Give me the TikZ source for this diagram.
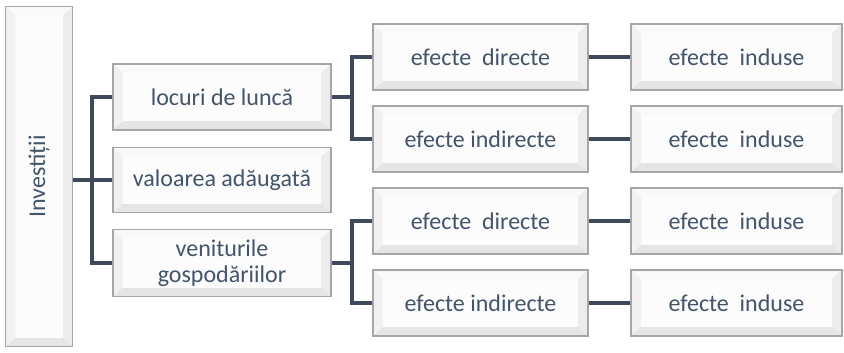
\documentclass[tikz,border=0pt]{standalone}
\usepackage{fontspec}
\setmainfont{Carlito}
\usetikzlibrary{calc}
\definecolor{txt}{HTML}{44546A}
\definecolor{ln}{HTML}{3E4A5C}
\definecolor{edge}{HTML}{A6A6A6}
\tikzset{
  bevelbox/.style={draw=edge, line width=1.2pt, fill=white, inner sep=0pt,
    text=txt, font=\fontsize{24}{26}\selectfont, align=center,
    path picture={
      \coordinate (nw) at (path picture bounding box.north west);
      \coordinate (ne) at (path picture bounding box.north east);
      \coordinate (sw) at (path picture bounding box.south west);
      \coordinate (se) at (path picture bounding box.south east);
      \coordinate (inw) at ($(nw)+(10pt,-9pt)$);
      \coordinate (ine) at ($(ne)+(-10pt,-9pt)$);
      \coordinate (isw) at ($(sw)+(10pt,9pt)$);
      \coordinate (ise) at ($(se)+(-10pt,9pt)$);
      \fill[gray!5] (nw) -- (ne) -- (ine) -- (inw) -- cycle;
      \fill[gray!11] (nw) -- (inw) -- (isw) -- (sw) -- cycle;
      \fill[gray!15] (ne) -- (ine) -- (ise) -- (se) -- cycle;
      \fill[gray!20] (sw) -- (isw) -- (ise) -- (se) -- cycle;
      \fill[gray!2] (inw) rectangle (ise);
    }},
  conn/.style={draw=ln, line width=3.5pt}
}
\begin{document}
\begin{tikzpicture}[x=1pt,y=-1pt]
\useasboundingbox (0,0) rectangle (844,353);
\node[bevelbox, minimum width=67pt, minimum height=340pt] (inv) at (39,176.5) {\rotatebox{90}{Investiții}};
\node[bevelbox, minimum width=218pt, minimum height=66pt] (loc) at (222,97) {locuri de luncă};
\node[bevelbox, minimum width=218pt, minimum height=65pt] (val) at (222,180) {valoarea adăugată};
\node[bevelbox, minimum width=218pt, minimum height=67pt] (ven) at (222,263) {veniturile\\gospodăriilor};
\node[bevelbox, minimum width=215pt, minimum height=66pt] (d1) at (480.5,57) {efecte\ \ directe};
\node[bevelbox, minimum width=215pt, minimum height=66pt] (i1) at (480.5,139) {efecte indirecte};
\node[bevelbox, minimum width=215pt, minimum height=66pt] (d2) at (480.5,221) {efecte\ \ directe};
\node[bevelbox, minimum width=215pt, minimum height=66pt] (i2) at (480.5,303) {efecte indirecte};
\node[bevelbox, minimum width=211pt, minimum height=66pt] (e1) at (736.5,57) {efecte\ \ induse};
\node[bevelbox, minimum width=211pt, minimum height=66pt] (e2) at (736.5,139) {efecte\ \ induse};
\node[bevelbox, minimum width=211pt, minimum height=66pt] (e3) at (736.5,221) {efecte\ \ induse};
\node[bevelbox, minimum width=211pt, minimum height=66pt] (e4) at (736.5,303) {efecte\ \ induse};
\coordinate (b1) at (92,0);
\coordinate (b2) at (352,0);
\draw[conn] (inv.east |- val.west) -- (val.west);
\draw[conn] (loc.west) -- (loc.west -| b1) |- (ven.west);
\draw[conn] (loc.east) -- (loc.east -| b2);
\draw[conn] (d1.west) -- (d1.west -| b2) |- (i1.west);
\draw[conn] (ven.east) -- (ven.east -| b2);
\draw[conn] (d2.west) -- (d2.west -| b2) |- (i2.west);
\draw[conn] (d1.east) -- (e1.west);
\draw[conn] (i1.east) -- (e2.west);
\draw[conn] (d2.east) -- (e3.west);
\draw[conn] (i2.east) -- (e4.west);
\end{tikzpicture}
\end{document}
